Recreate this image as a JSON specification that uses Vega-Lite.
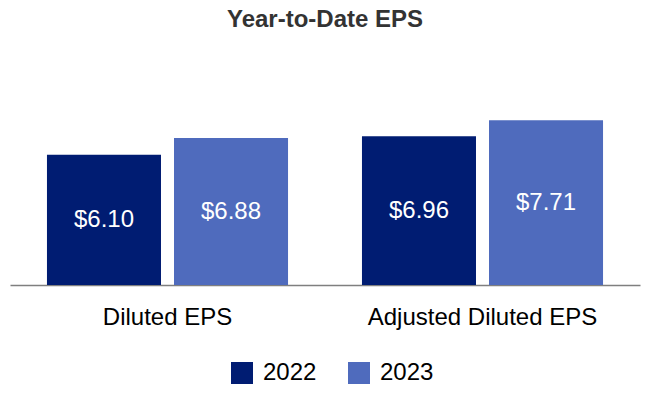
{
  "$schema": "https://vega.github.io/schema/vega-lite/v6.json",
  "autosize": "none",
  "width": 630,
  "height": 235,
  "padding": {"left": 10, "top": 50, "right": 10, "bottom": 115},
  "background": "white",
  "config": {"view": {"stroke": null}},
  "title": {
    "text": "Year-to-Date EPS",
    "font": "Liberation Sans",
    "fontSize": 24,
    "fontWeight": "bold",
    "color": "#333333",
    "anchor": "middle",
    "offset": 18
  },
  "data": {
    "values": [
      {"metric": "Diluted EPS", "year": "2022", "eps": 6.10},
      {"metric": "Diluted EPS", "year": "2023", "eps": 6.88},
      {"metric": "Adjusted Diluted EPS", "year": "2022", "eps": 6.96},
      {"metric": "Adjusted Diluted EPS", "year": "2023", "eps": 7.71}
    ]
  },
  "transform": [{"calculate": "datum.eps / 2", "as": "mid"}],
  "encoding": {
    "x": {
      "field": "metric",
      "type": "nominal",
      "sort": ["Diluted EPS", "Adjusted Diluted EPS"],
      "scale": {"paddingInner": 0, "paddingOuter": 0},
      "axis": {
        "title": null,
        "labelAngle": 0,
        "labelFont": "Liberation Sans",
        "labelFontSize": 24,
        "labelColor": "#000000",
        "labelPadding": 20,
        "labelLimit": 0,
        "ticks": false,
        "domainColor": "#7f7f7f",
        "domainWidth": 1.6
      }
    },
    "xOffset": {
      "field": "year",
      "type": "nominal",
      "scale": {"paddingInner": 0.1024, "paddingOuter": 0.291}
    }
  },
  "layer": [
    {
      "mark": {"type": "bar"},
      "encoding": {
        "y": {
          "field": "eps",
          "type": "quantitative",
          "scale": {"domain": [0, 11], "nice": false},
          "axis": null
        },
        "color": {
          "field": "year",
          "type": "nominal",
          "scale": {"domain": ["2022", "2023"], "range": ["#001c72", "#4f6bbd"]},
          "legend": {
            "title": null,
            "orient": "none",
            "legendX": 220,
            "legendY": 311,
            "direction": "horizontal",
            "symbolType": "square",
            "symbolSize": 484,
            "symbolStrokeWidth": 0,
            "symbolOpacity": 1,
            "labelFont": "Liberation Sans",
            "labelFontSize": 24,
            "labelColor": "#000000",
            "labelOffset": 9,
            "columnPadding": 30,
            "padding": 0
          }
        }
      }
    },
    {
      "mark": {
        "type": "text",
        "color": "white",
        "font": "Liberation Sans",
        "fontSize": 24,
        "baseline": "middle",
        "align": "center"
      },
      "encoding": {
        "y": {"field": "mid", "type": "quantitative", "scale": {"domain": [0, 11], "nice": false}},
        "text": {"field": "eps", "type": "quantitative", "format": "$.2f"}
      }
    }
  ]
}
